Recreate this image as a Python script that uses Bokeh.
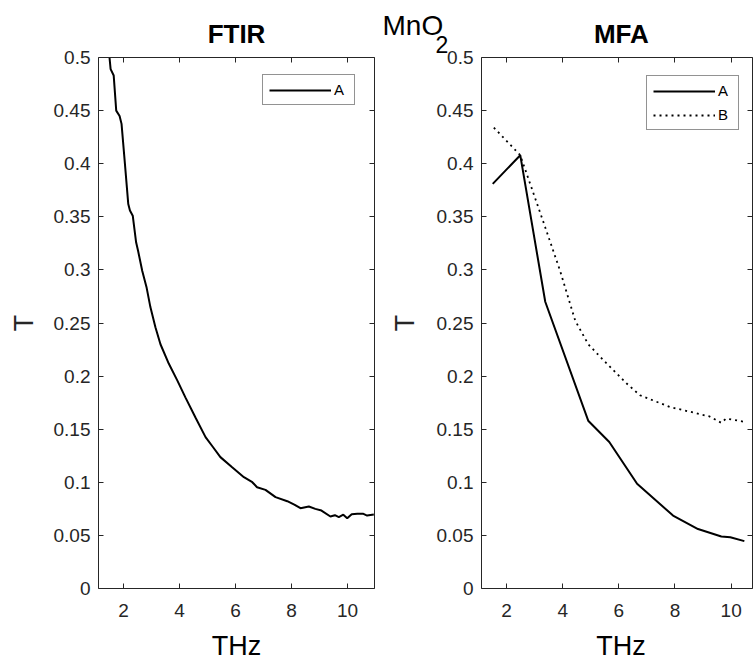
from bokeh.plotting import figure
from bokeh.layouts import row
from bokeh.models import Range1d, LinearAxis, FixedTicker, Legend, LegendItem, Label
from bokeh.embed import file_html
from bokeh.resources import INLINE

# ---------------- data ----------------
ftir_thz = [1.50, 1.54, 1.65, 1.74, 1.86, 1.93, 2.05, 2.17, 2.23, 2.33, 2.45,
            2.52, 2.67, 2.82, 2.96, 3.14, 3.32, 3.62, 3.92, 4.21, 4.57, 4.93, 5.20,
            5.46, 5.88, 6.30, 6.60, 6.77, 7.07, 7.43, 7.85, 8.10, 8.32, 8.62, 8.85,
            9.07, 9.39, 9.55, 9.69, 9.85, 9.99, 10.15, 10.35, 10.55, 10.70, 10.94]
ftir_a = [0.500, 0.489, 0.483, 0.450, 0.445, 0.4375, 0.400, 0.362, 0.356, 0.351, 0.326,
          0.318, 0.299, 0.284, 0.265, 0.246, 0.230, 0.2116, 0.196, 0.180, 0.161, 0.1425, 0.133,
          0.1237, 0.1142, 0.1048, 0.1001, 0.0954, 0.0929, 0.0860, 0.0822, 0.0790, 0.0756, 0.0772, 0.0750,
          0.0734, 0.0678, 0.0690, 0.0672, 0.0695, 0.0662, 0.0700, 0.0703, 0.0705, 0.0687, 0.0697]

mfa_thz_a = [1.51, 2.49, 3.38, 4.91, 5.66, 6.65, 7.93, 8.82, 9.65, 9.97, 10.47]
mfa_a = [0.381, 0.408, 0.270, 0.158, 0.138, 0.0986, 0.0687, 0.056, 0.049, 0.0483, 0.0446]

mfa_thz_b = [1.55, 2.49, 3.38, 3.91, 4.45, 4.91, 5.45, 6.28, 6.75, 7.81, 8.76, 9.23, 9.65, 9.82, 10.47]
mfa_b = [0.434, 0.408, 0.340, 0.299, 0.252, 0.230, 0.215, 0.193, 0.182, 0.171, 0.165, 0.162, 0.156, 0.160, 0.157]

x_ticks = [2, 4, 6, 8, 10]
x_tick_labels = ["2", "4", "6", "8", "10"]
y_ticks = [0, 0.05, 0.1, 0.15, 0.2, 0.25, 0.3, 0.35, 0.4, 0.45, 0.5]
y_tick_labels = ["0", "0.05", "0.1", "0.15", "0.2", "0.25", "0.3", "0.35", "0.4", "0.45", "0.5"]
Y_MIN, Y_MAX = 0.0, 0.5

FONT = "Liberation Sans"
AX = "#262626"
H = 660
BOX_TOP, BOX_BOTTOM = 57, 588          # pixel rows of the axes box


def style_axis(ax, ticks, labels, show_labels, standoff):
    ax.ticker = FixedTicker(ticks=ticks)
    ax.major_label_overrides = dict(zip(ticks, labels))
    ax.axis_line_color = AX
    ax.axis_line_width = 1
    ax.major_tick_line_color = AX
    ax.major_tick_in = 5
    ax.major_tick_out = 0
    ax.minor_tick_line_color = None
    ax.major_label_text_font = FONT
    ax.major_label_text_font_size = "19px"
    ax.major_label_standoff = standoff
    ax.major_label_text_color = AX if show_labels else None


def make_fig(width, box_left, box_right, x0, x1, ylab_standoff):
    # the frame fills the whole canvas; the box is drawn with fixed-location axes
    xs = (box_right - box_left) / (x1 - x0)
    ys = (BOX_BOTTOM - BOX_TOP) / (Y_MAX - Y_MIN)
    xr = Range1d(x0 - box_left / xs, x1 + (width - box_right) / xs)
    yr = Range1d(Y_MIN - (H - BOX_BOTTOM) / ys, Y_MAX + BOX_TOP / ys)
    p = figure(width=width, height=H, x_range=xr, y_range=yr,
               output_backend="svg", toolbar_location=None, min_border=0)
    p.title = None
    p.xgrid.visible = False
    p.ygrid.visible = False
    p.outline_line_color = None
    p.background_fill_color = "white"
    p.border_fill_color = "white"

    bx, by = p.xaxis[0], p.yaxis[0]
    style_axis(bx, x_ticks, x_tick_labels, True, 15)
    style_axis(by, y_ticks, y_tick_labels, True, 8)
    bx.fixed_location = Y_MIN
    bx.bounds = (x0, x1)
    by.fixed_location = x0
    by.bounds = (Y_MIN, Y_MAX)
    by.axis_label = "T"
    by.axis_label_text_font = FONT
    by.axis_label_text_font_size = "27px"
    by.axis_label_text_font_style = "normal"
    by.axis_label_text_color = AX
    by.axis_label_standoff = ylab_standoff

    top = LinearAxis(fixed_location=Y_MAX, bounds=(x0, x1))
    style_axis(top, x_ticks, x_tick_labels, False, 0)
    p.add_layout(top, "above")
    right = LinearAxis(fixed_location=x1, bounds=(Y_MIN, Y_MAX))
    style_axis(right, y_ticks, y_tick_labels, False, 0)
    p.add_layout(right, "right")
    return p


def text_label(p, x, y, text, size, style="normal", xo=0, yo=0, align="center"):
    p.add_layout(Label(x=x, y=y, x_offset=xo, y_offset=yo, text=text, text_align=align,
                       text_baseline="alphabetic", text_font=FONT, text_font_size=size,
                       text_font_style=style, text_color="black"))


def make_legend(items, loc):
    return Legend(items=items, location=loc, border_line_color=AX, border_line_width=1,
                  label_text_font=FONT, label_text_font_size="15px", label_text_color="black",
                  glyph_width=62, glyph_height=16, label_height=16, label_width=14,
                  label_standoff=3, padding=6, spacing=7, margin=0,
                  background_fill_color="white", background_fill_alpha=1)


# ---------------- FTIR ----------------
p1 = make_fig(380, 98, 374, 1.107, 10.964, 12)
r1 = p1.line(ftir_thz, ftir_a, line_color="black", line_width=2)
p1.add_layout(make_legend([LegendItem(label="A", renderers=[r1])], (262, H - 105)))
text_label(p1, 6.036, Y_MAX, "FTIR", "26px", "bold", yo=24)
text_label(p1, 6.036, Y_MIN, "THz", "27px", yo=-57)

# ---------------- MFA ----------------
p2 = make_fig(373, 101, 372, 1.11, 10.76, 14)
ra = p2.line(mfa_thz_a, mfa_a, line_color="black", line_width=2)
rb = p2.line(mfa_thz_b, mfa_b, line_color="black", line_width=1.8, line_dash="2 4")
p2.add_layout(make_legend([LegendItem(label="A", renderers=[ra]),
                           LegendItem(label="B", renderers=[rb])], (266, H - 130)))
text_label(p2, 6.09, Y_MAX, "MFA", "26px", "bold", yo=24)
text_label(p2, 6.08, Y_MIN, "THz", "27px", yo=-57)
text_label(p2, 1.11, Y_MAX, "MnO", "28px", xo=-99, yo=32, align="left")
text_label(p2, 1.11, Y_MAX, "2", "23px", xo=-46, yo=13, align="left")

layout = row(p1, p2)
open("out.html", "w").write(file_html(layout, INLINE))
